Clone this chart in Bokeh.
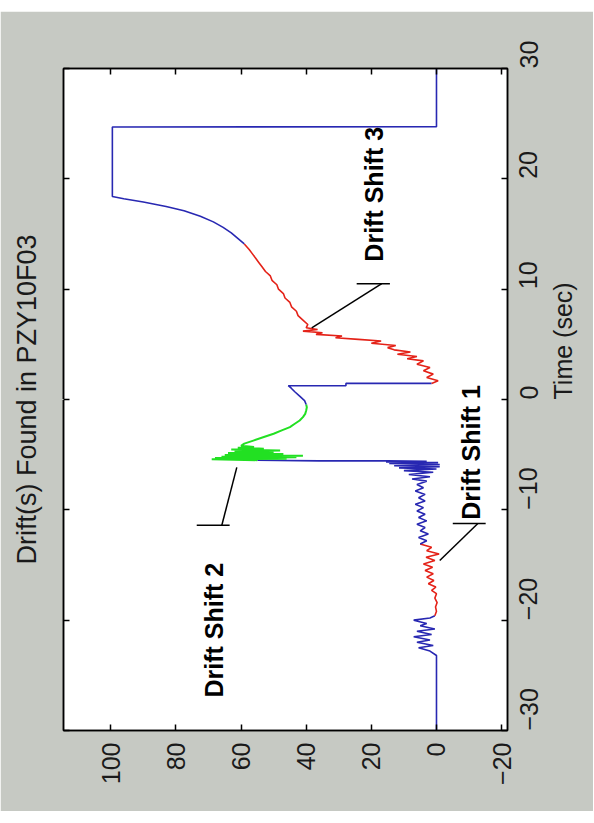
import math
from bokeh.plotting import figure
from bokeh.models import LinearAxis, FixedTicker, Range1d, Label, Title
from bokeh.embed import file_html
from bokeh.resources import INLINE

# ---------------- data (time in sec, drift value) ----------------
blue1_t = [-30, -23.2, -22.8, -22.5, -22.3, -22.0, -21.8, -21.5, -21.3, -21.0, -20.8, -20.5, -20.3, -20.0, -19.8, -19.6]
blue1_d = [0, 0, 2, 5.5, 1, 6, 2, 7, 1.5, 6, 0.5, 5, 3, 7, 2, 0.5]

red1_t = [-19.6, -19.2, -18.8, -18.4, -18.0, -17.6, -17.3, -17.0, -16.7, -16.4, -16.1, -15.8, -15.5,
          -15.2, -14.9, -14.6, -14.3, -14.0, -13.7, -13.4, -13.1]
red1_d = [0.5, 0, 0.3, -0.2, 0.5, 0, 1.5, 0.2, 2.5, 0.8, 3, 1, 3.5, 1.2, 4, 0.5, 3.2, -0.8, 3, 1.5, 5]

blue2_t = [-13.1, -12.8, -12.5, -12.2, -11.9, -11.6, -11.3, -11.0, -10.7, -10.4, -10.1, -9.8, -9.5, -9.2,
           -8.9, -8.6, -8.3, -8.0, -7.7, -7.4, -7.2, -7.0, -6.8, -6.6, -6.45, -6.3, -6.2, -6.1, -6.0,
           -5.9, -5.8, -5.72, -5.65, -5.6, -5.56, -5.56, -5.5]
blue2_d = [5, 3, 5.5, 2.5, 5, 3.5, 6, 3, 5.5, 3.5, 6, 4, 6.5, 3.5, 5.5, 3.5, 6.5, 4, 6, 3, 7.5, 2, 8.5,
           1, 10, 0, 11.5, -1, 13, -1, 14.5, -0.5, 15.5, 3, 15, 36, 55]

green_t = [-5.5, -5.42, -5.36, -5.3, -5.24, -5.18, -5.1, -5.02, -4.94, -4.86, -4.78, -4.7, -4.62, -4.54,
           -4.46, -4.38, -4.3, -4.2, -4.0, -3.7, -3.4, -3.1, -2.8, -2.5, -2.2, -1.9, -1.6, -1.3, -1.0,
           -0.7, -0.45]
green_d = [55, 69, 46, 68, 43, 66, 41, 65, 47, 64, 50, 62, 48, 63, 53, 61, 56, 60, 59, 56, 53, 50, 47.5,
           45, 43.5, 42, 41, 40.3, 40, 39.8, 40]

blue3_t = [-0.45, -0.1, 0.3, 0.7, 1.0, 1.25, 1.25, 1.46, 1.46]
blue3_d = [40, 40.5, 42, 43.5, 44.5, 45.5, 27.8, 27.8, 1.5]

red2_t = [1.46, 1.7, 2.0, 2.3, 2.6, 2.9, 3.2, 3.5, 3.7, 3.9, 4.1, 4.3, 4.5, 4.7, 4.9, 5.1, 5.3, 5.45,
          5.6, 5.75, 5.9, 6.05, 6.2, 6.35, 6.5, 6.8, 7.2, 7.6, 8.0, 8.4, 8.8, 9.2, 9.6, 10.0, 10.4,
          10.8, 11.2, 11.6, 12.0, 12.4, 12.8, 13.2, 13.6, 14.1]
red2_d = [1.5, -0.5, 3, 1, 4, 2, 6, 4, 9, 6, 12, 8, 13, 15, 12.5, 20, 17, 24, 31, 29, 37, 35, 41, 36.5,
          40, 39.5, 41, 42.5, 43, 44.5, 45, 46.5, 47, 48.5, 49, 50.5, 51, 52.5, 53.5, 54.5, 55.5,
          56.5, 57.5, 59]

blue4_t = [14.1, 14.6, 15.1, 15.6, 16.1, 16.6, 17.1, 17.5, 17.9, 18.2, 18.4, 24.7, 24.72, 30]
blue4_d = [59, 61, 63, 65.5, 68.5, 72.5, 77.5, 83, 90, 96, 99.5, 99.5, 0, 0]

drift_ticks = [-20, 0, 20, 40, 60, 80, 100]
time_ticks = [-30, -20, -10, 0, 10, 20, 30]

# annotations: label text, label centre (drift, time), bar and pointer ends
ann_text = ["Drift Shift 1", "Drift Shift 2", "Drift Shift 3"]
ann_d = [-10.5, 68.4, 19.3]
ann_t = [-4.8, -20.9, 18.6]
bar_d = [[-5.0, -15.1], [73.6, 63.5], [24.5, 14.3]]
bar_t = [[-11.24, -11.24], [-11.4, -11.4], [10.5, 10.5]]
ptr_d = [[-12.7, -1.0], [65.9, 61.3], [16.8, 38.3]]
ptr_t = [[-11.24, -14.6], [-11.4, -6.15], [10.5, 6.5]]

BLUE = "#2828b2"
RED = "#e42218"
GREEN = "#22e022"
GRAY = "#c6c9c3"
FONT = "Liberation Sans"

p = figure(frame_width=444, frame_height=662, output_backend="svg", toolbar_location=None,
           x_range=Range1d(114.5, -21.8), y_range=Range1d(-30, 30),
           x_axis_location="below", y_axis_location="right",
           min_border_left=63, min_border_right=82, min_border_top=57, min_border_bottom=81,
           background_fill_color="white", border_fill_color=GRAY,
           margin=(11, 0, 0, 0))
p.grid.visible = False
p.outline_line_color = "black"
p.outline_line_width = 1.5
p.outline_line_alpha = 1.0

def style_axis(ax, ticks, show_labels):
    ax.ticker = FixedTicker(ticks=ticks)
    ax.major_tick_in = 6
    ax.major_tick_out = 0
    ax.minor_tick_line_color = None
    ax.major_tick_line_color = "black"
    ax.major_tick_line_width = 1.5
    ax.axis_line_color = "black"
    ax.axis_line_width = 1.5
    ax.major_label_text_font = FONT
    if show_labels:
        ax.major_label_text_color = "#1a1a1a"
        ax.major_label_text_font_size = "25px"
        ax.major_label_orientation = math.pi / 2
    else:
        ax.major_label_text_color = None
        ax.major_label_standoff = 0

xb = p.xaxis[0]
style_axis(xb, drift_ticks, True)
xb.major_label_standoff = 12

yr = p.yaxis[0]
style_axis(yr, time_ticks, True)
yr.major_label_standoff = 21
yr.axis_label = "Time (sec)"
yr.axis_label_text_font = FONT
yr.axis_label_text_font_size = "25px"
yr.axis_label_text_font_style = "normal"
yr.axis_label_text_color = "#1a1a1a"
yr.axis_label_standoff = 13
if "axis_label_orientation" in yr.properties():
    yr.axis_label_orientation = math.pi / 2

xt = LinearAxis()
style_axis(xt, drift_ticks, False)
p.add_layout(xt, "above")
yl = LinearAxis()
style_axis(yl, time_ticks, False)
p.add_layout(yl, "left")
# spacer axis (ticks drawn in the background colour) that keeps the title off the frame
ysp = LinearAxis(ticker=FixedTicker(ticks=[0]), major_tick_out=17, major_tick_in=0,
                 major_tick_line_color=GRAY, minor_tick_line_color=None,
                 axis_line_color=None, major_label_text_color=None, major_label_standoff=0)
p.add_layout(ysp, "left")

title = Title(text="Drift(s) Found in PZY10F03", align="center", standoff=10,
              text_font=FONT, text_font_size="27px", text_font_style="normal",
              text_color="#1a1a1a")
p.add_layout(title, "left")

for t, d, c, w in [(blue1_t, blue1_d, BLUE, 1.6), (red1_t, red1_d, RED, 1.6),
                   (blue2_t, blue2_d, BLUE, 1.6), (green_t, green_d, GREEN, 2.0),
                   (blue3_t, blue3_d, BLUE, 1.6), (red2_t, red2_d, RED, 1.6),
                   (blue4_t, blue4_d, BLUE, 1.6)]:
    p.line(x=d, y=t, line_color=c, line_width=w)

p.multi_line(xs=bar_d + ptr_d, ys=bar_t + ptr_t, line_color="black", line_width=1.5)

for txt, d, t in zip(ann_text, ann_d, ann_t):
    p.add_layout(Label(x=d, y=t, text=txt, angle=math.pi / 2, text_align="center",
                       text_baseline="middle", text_font=FONT, text_font_size="25px",
                       text_font_style="bold", text_color="black"))

open("out.html", "w").write(file_html(p, INLINE))
